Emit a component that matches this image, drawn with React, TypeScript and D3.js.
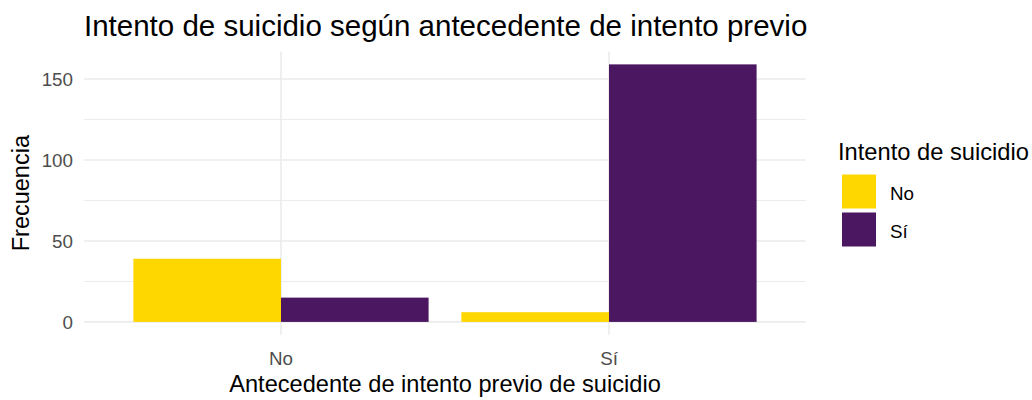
import React from "react";
import * as d3 from "d3";

const categories = ["No", "Sí"];
const groups = ["No", "Sí"];
const valuesNo = [39, 6];
const valuesSi = [15, 159];
const colors = ["#FFD700", "#4B1760"];
const yTicks = [0, 50, 100, 150];
const yMinor = [25, 75, 125];

const title = "Intento de suicidio según antecedente de intento previo";
const xTitle = "Antecedente de intento previo de suicidio";
const yTitle = "Frecuencia";
const legendTitle = "Intento de suicidio";

export default function App() {
  const W = 1032;
  const H = 400;
  const panel = { left: 84.2, right: 805.8, top: 51.5, bottom: 334.8 };
  const font = "'Liberation Sans', Arial, sans-serif";

  const series = [valuesNo, valuesSi];
  const maxV = d3.max(series.flat()) as number;
  const y = d3
    .scaleLinear()
    .domain([-0.05 * maxV, 1.05 * maxV])
    .range([panel.bottom, panel.top]);

  // discrete x: positions 1..n, expanded by 0.6 each side
  const xc = d3
    .scaleLinear()
    .domain([1 - 0.6, categories.length + 0.6])
    .range([panel.left, panel.right]);
  const barW = 0.9 / groups.length;

  return (
    <svg width={W} height={H} style={{ position: "absolute", left: 0, top: 0, background: "#fff" }}>
      <rect x={0} y={0} width={W} height={H} fill="#fff" />
      {/* minor grid */}
      {yMinor.map((t) => (
        <line key={"mn" + t} x1={panel.left} x2={panel.right} y1={y(t)} y2={y(t)} stroke="#EBEBEB" strokeWidth={1} />
      ))}
      {/* major grid */}
      {yTicks.map((t) => (
        <line key={"mj" + t} x1={panel.left} x2={panel.right} y1={y(t)} y2={y(t)} stroke="#EBEBEB" strokeWidth={1.6} />
      ))}
      {categories.map((c, i) => (
        <line key={"vx" + c} x1={xc(i + 1)} x2={xc(i + 1)} y1={panel.top} y2={panel.bottom} stroke="#EBEBEB" strokeWidth={1.6} />
      ))}
      {/* bars */}
      {categories.map((c, i) =>
        groups.map((g, j) => {
          const x0 = xc(i + 1 - 0.45 + j * barW);
          const x1 = xc(i + 1 - 0.45 + (j + 1) * barW);
          const v = series[j][i];
          return (
            <rect
              key={c + g}
              x={x0}
              y={y(v)}
              width={x1 - x0}
              height={y(0) - y(v)}
              fill={colors[j]}
            />
          );
        })
      )}
      {/* y tick labels */}
      {yTicks.map((t) => (
        <text key={"yl" + t} x={73} y={y(t)} dy="0.36em" textAnchor="end" fontFamily={font} fontSize={18.8} fill="#4D4D4D">
          {t}
        </text>
      ))}
      {/* x tick labels */}
      {categories.map((c, i) => (
        <text key={"xl" + c} x={xc(i + 1)} y={365} textAnchor="middle" fontFamily={font} fontSize={18.8} fill="#4D4D4D">
          {c}
        </text>
      ))}
      {/* axis titles */}
      <text x={(panel.left + panel.right) / 2} y={391.5} textAnchor="middle" fontFamily={font} fontSize={23.6} fill="#000">
        {xTitle}
      </text>
      <text
        transform={`translate(29,${(panel.top + panel.bottom) / 2}) rotate(-90)`}
        textAnchor="middle"
        fontFamily={font}
        fontSize={23.5}
        fill="#000"
      >
        {yTitle}
      </text>
      {/* title */}
      <text x={84} y={36} fontFamily={font} fontSize={29.5} fill="#000">
        {title}
      </text>
      {/* legend */}
      <text x={838} y={160} fontFamily={font} fontSize={23.7} fill="#000">
        {legendTitle}
      </text>
      {groups.map((g, j) => (
        <g key={"lg" + g}>
          <rect x={842} y={174.5 + j * 38} width={34} height={34} fill={colors[j]} />
          <text x={890} y={174.5 + j * 38 + 19} dy="0.36em" fontFamily={font} fontSize={18.8} fill="#000">
            {g}
          </text>
        </g>
      ))}
    </svg>
  );
}
